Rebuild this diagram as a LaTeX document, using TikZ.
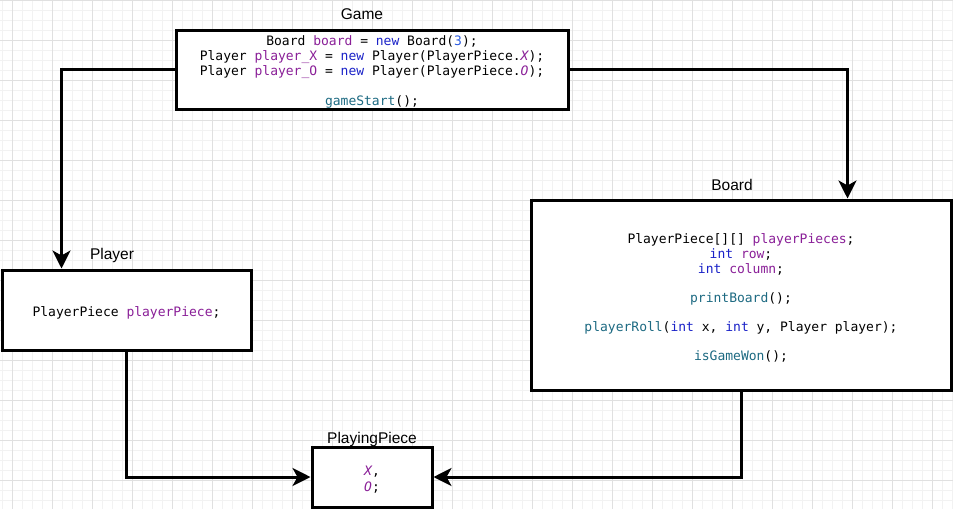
\documentclass[tikz,border=0pt]{standalone}
\usepackage{fontspec}
\setmainfont{Liberation Sans}
\setmonofont{DejaVu Sans Mono}
\usetikzlibrary{arrows.meta}
\definecolor{vpurple}{HTML}{8A1F98}
\definecolor{kblue}{HTML}{1A22C8}
\definecolor{nblue}{HTML}{2B5BE0}
\definecolor{fteal}{HTML}{1D6A82}
\definecolor{gridminor}{HTML}{F2F2F2}
\definecolor{gridmajor}{HTML}{E0E0E0}
\newcommand{\vp}[1]{\textcolor{vpurple}{#1}}
\newcommand{\kw}[1]{\textcolor{kblue}{#1}}
\newcommand{\fn}[1]{\textcolor{fteal}{#1}}
\newcommand{\topstrut}{\rule{0pt}{15pt}}
\begin{document}
\begin{tikzpicture}[x=1pt,y=-1pt,
  box/.style={draw=black,line width=3pt,fill=white,inner sep=0pt,align=center,
    font=\ttfamily\fontsize{13}{15}\selectfont},
  lbl/.style={font=\fontsize{15.5}{18}\selectfont,inner sep=0pt},
  conn/.style={line width=3pt,-{Stealth[length=18pt,width=18pt,inset=5pt]}}]
\useasboundingbox (0,0) rectangle (953,509);
\fill[white] (0,0) rectangle (953,509);
% grid
\foreach \x in {2,12,...,952} \draw[gridminor,line width=0.8pt] (\x,0) -- (\x,509);
\foreach \y in {0,10,...,509} \draw[gridminor,line width=0.8pt] (0,\y) -- (953,\y);
\foreach \x in {12,52,...,952} \draw[gridmajor,line width=0.8pt] (\x,0) -- (\x,509);
\foreach \y in {0,40,...,509} \draw[gridmajor,line width=0.8pt] (0,\y) -- (953,\y);
% boxes
\node[box,minimum width=392pt,minimum height=79pt] (game) at (372,69.5)
  {\topstrut Board \vp{board} = \kw{new} Board(\textcolor{nblue}{3});\\
   Player \vp{player\_X} = \kw{new} Player(PlayerPiece.\vp{\itshape X});\\
   Player \vp{player\_O} = \kw{new} Player(PlayerPiece.\vp{\itshape O});\\[15pt]
   \fn{gameStart}();};
\node[box,minimum width=420pt,minimum height=190pt] (board) at (741,295)
  {\topstrut PlayerPiece[][] \vp{playerPieces};\\
   \kw{int} \vp{row};\\
   \kw{int} \vp{column};\\[14pt]
   \fn{printBoard}();\\[14pt]
   \fn{playerRoll}(\kw{int} x, \kw{int} y, Player player);\\[14pt]
   \fn{isGameWon}();};
\node[box,minimum width=249pt,minimum height=80pt] (player) at (126.5,310)
  {\topstrut PlayerPiece \vp{playerPiece};};
\node[box,minimum width=120pt,minimum height=60pt] (piece) at (372,477)
  {\topstrut\vp{\itshape X},\\[1.5pt] \vp{\itshape O};};
% labels
\node[lbl] (gamelbl) at (362,14) {Game};
\node[lbl] (boardlbl) at (732,185) {Board};
\node[lbl] (playerlbl) at (112,255) {Player};
\node[lbl] (piecelbl) at (372,439) {PlayingPiece};
% connectors
\draw[conn] (game.west) -| ([xshift=61pt]player.north west);
\draw[conn] (game.east) -| ([xshift=-105pt]board.north east);
\draw[conn] (player.south) |- (piece.west);
\draw[conn] (board.south) |- (piece.east);
\end{tikzpicture}
\end{document}
